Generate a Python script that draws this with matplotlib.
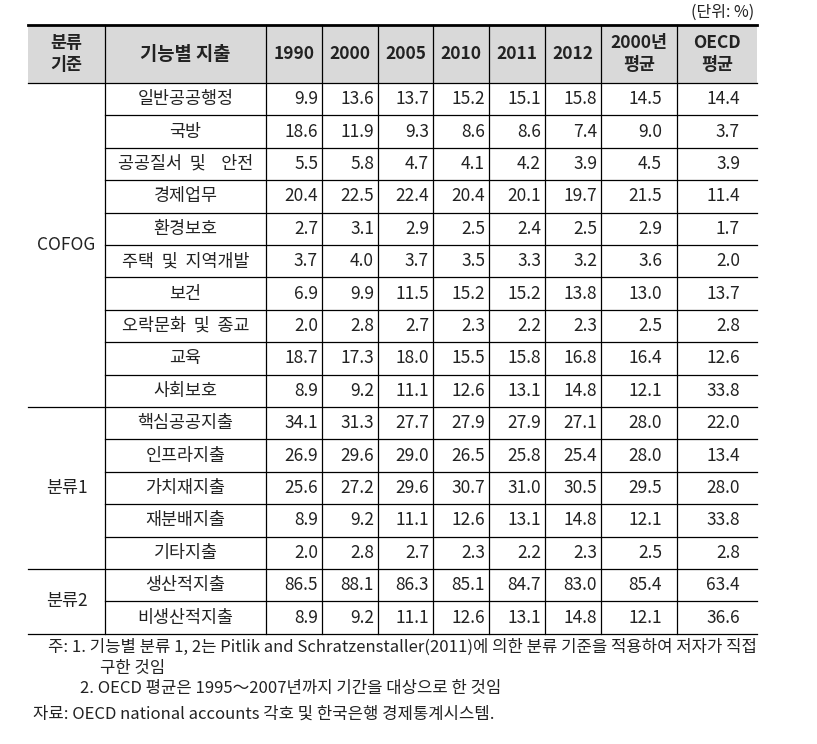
import numpy as np
import matplotlib.pyplot as plt

plt.rcParams['font.family'] = ['Noto Sans CJK KR', 'DejaVu Sans']

# 표 데이터
groups = ['COFOG', '분류1', '분류2']
group_sizes = [10, 5, 2]
items = ['일반공공행정', '국방', '공공질서 및  안전', '경제업무', '환경보호',
         '주택 및 지역개발', '보건', '오락문화 및 종교', '교육', '사회보호',
         '핵심공공지출', '인프라지출', '가치재지출', '재분배지출', '기타지출',
         '생산적지출', '비생산적지출']
columns = ['1990', '2000', '2005', '2010', '2011', '2012', '2000년\n평균', 'OECD\n평균']
values = [
    [9.9, 13.6, 13.7, 15.2, 15.1, 15.8, 14.5, 14.4],
    [18.6, 11.9, 9.3, 8.6, 8.6, 7.4, 9.0, 3.7],
    [5.5, 5.8, 4.7, 4.1, 4.2, 3.9, 4.5, 3.9],
    [20.4, 22.5, 22.4, 20.4, 20.1, 19.7, 21.5, 11.4],
    [2.7, 3.1, 2.9, 2.5, 2.4, 2.5, 2.9, 1.7],
    [3.7, 4.0, 3.7, 3.5, 3.3, 3.2, 3.6, 2.0],
    [6.9, 9.9, 11.5, 15.2, 15.2, 13.8, 13.0, 13.7],
    [2.0, 2.8, 2.7, 2.3, 2.2, 2.3, 2.5, 2.8],
    [18.7, 17.3, 18.0, 15.5, 15.8, 16.8, 16.4, 12.6],
    [8.9, 9.2, 11.1, 12.6, 13.1, 14.8, 12.1, 33.8],
    [34.1, 31.3, 27.7, 27.9, 27.9, 27.1, 28.0, 22.0],
    [26.9, 29.6, 29.0, 26.5, 25.8, 25.4, 28.0, 13.4],
    [25.6, 27.2, 29.6, 30.7, 31.0, 30.5, 29.5, 28.0],
    [8.9, 9.2, 11.1, 12.6, 13.1, 14.8, 12.1, 33.8],
    [2.0, 2.8, 2.7, 2.3, 2.2, 2.3, 2.5, 2.8],
    [86.5, 88.1, 86.3, 85.1, 84.7, 83.0, 85.4, 63.4],
    [8.9, 9.2, 11.1, 12.6, 13.1, 14.8, 12.1, 36.6],
]
notes = ['주: 1. 기능별 분류 1, 2는 Pitlik and Schratzenstaller(2011)에 의한 분류 기준을 적용하여 저자가 직접',
         '구한 것임',
         '2. OECD 평균은 1995～2007년까지 기간을 대상으로 한 것임',
         '자료: OECD national accounts 각호 및 한국은행 경제통계시스템.']

# 레이아웃 (픽셀 단위)
xs = [28, 105, 266, 322, 378, 433, 489, 545, 601, 677, 757]
y_top = 25
y_head = 83
row_h = 32.4
n = len(items)
y_bot = y_head + row_h * n
txt = '#222222'
fs = 12.5

fig = plt.figure(figsize=(8.17, 7.44), dpi=100)
ax = fig.add_axes([0, 0, 1, 1])
ax.set_xlim(0, 817)
ax.set_ylim(744, 0)
ax.axis('off')

# 헤더 배경
ax.fill_between([xs[0], xs[-1]], y_top, y_head, color='#d9d9d9', lw=0)

# 선
ax.plot([xs[0], xs[-1]], [y_top, y_top], color='black', lw=2.0)
ax.plot([xs[0], xs[-1]], [y_head, y_head], color='black', lw=0.9)
ax.plot([xs[0], xs[-1]], [y_bot, y_bot], color='black', lw=0.9)
for x in xs[1:-1]:
    ax.plot([x, x], [y_top, y_bot], color='black', lw=0.9)
bounds = np.cumsum(group_sizes)
for i in range(1, n):
    y = y_head + row_h * i
    x0 = xs[0] if i in bounds else xs[1]
    ax.plot([x0, xs[-1]], [y, y], color='black', lw=0.9)

# 헤더 텍스트
hy = (y_top + y_head) / 2
ax.text((xs[0] + xs[1]) / 2, hy, '분류\n기준', ha='center', va='center', fontsize=fs,
        fontweight='bold', color=txt, linespacing=1.3)
ax.text((xs[1] + xs[2]) / 2, hy, '기능별 지출', ha='center', va='center', fontsize=13.5,
        fontweight='bold', color=txt)
for j, c in enumerate(columns):
    ax.text((xs[j + 2] + xs[j + 3]) / 2, hy, c, ha='center', va='center', fontsize=fs,
            fontweight='bold', color=txt, linespacing=1.3)

# 그룹 이름
start = 0
for g, s in zip(groups, group_sizes):
    yc = y_head + row_h * (start + s / 2)
    ax.text((xs[0] + xs[1]) / 2, yc, g, ha='center', va='center', fontsize=fs, color=txt)
    start += s

# 항목 및 값
pads = [4, 4, 4, 4, 4, 4, 15, 17]
for i, name in enumerate(items):
    yc = y_head + row_h * (i + 0.5)
    ax.text((xs[1] + xs[2]) / 2, yc, name.replace(' ', '  '), ha='center', va='center',
            fontsize=fs, color=txt)
    for j, v in enumerate(values[i]):
        ax.text(xs[j + 3] - pads[j], yc, f'{v:.1f}', ha='right', va='center',
                fontsize=fs, color=txt)

# 단위
ax.text(754, 12, '(단위: %)', ha='right', va='center', fontsize=11.5, color=txt)

# 주석
ax.text(48, 647, notes[0], ha='left', va='center', fontsize=12, color=txt)
ax.text(100, 668, notes[1], ha='left', va='center', fontsize=12, color=txt)
ax.text(80, 688, notes[2], ha='left', va='center', fontsize=12, color=txt)
ax.text(33, 714, notes[3], ha='left', va='center', fontsize=12, color=txt)

plt.savefig('out.png', dpi=100)
